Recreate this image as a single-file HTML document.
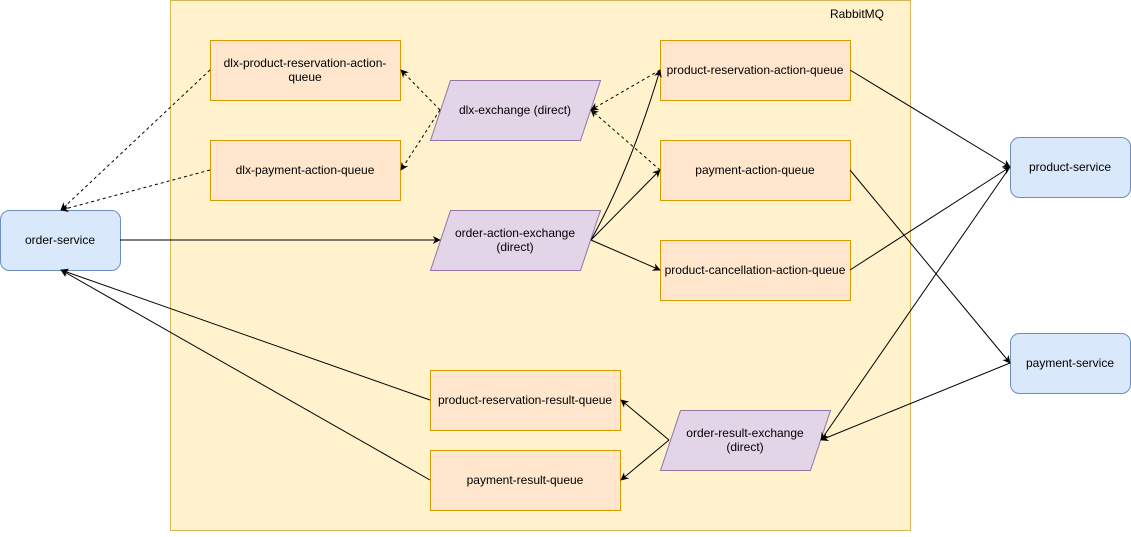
<!DOCTYPE html>
<html><head><style>
html,body{margin:0;padding:0;background:#fff;}
svg text{font-family:"Liberation Sans",Helvetica,sans-serif;font-size:12px;fill:#000;}
</style></head><body>
<svg width="1131" height="532" viewBox="0 0 1131 532" xmlns="http://www.w3.org/2000/svg">
<defs>
<marker id="a" viewBox="0 0 10 10" refX="9" refY="5" markerWidth="8" markerHeight="8" orient="auto-start-reverse" markerUnits="userSpaceOnUse"><path d="M0,0 L10,5 L0,10 L3,5 z" fill="#000"/></marker>
</defs>
<rect x="170.5" y="0.5" width="740" height="530" fill="#fff2cc" stroke="#d6b656"/>
<text x="884" y="18" text-anchor="end">RabbitMQ</text>

<g fill="#ffe6cc" stroke="#d79b00">
<rect x="210.5" y="40.5" width="190" height="60"/>
<rect x="210.5" y="140.5" width="190" height="60"/>
<rect x="660.5" y="40.5" width="190" height="60"/>
<rect x="660.5" y="140.5" width="190" height="60"/>
<rect x="660.5" y="240.5" width="190" height="60"/>
<rect x="430.5" y="370.5" width="190" height="60"/>
<rect x="430.5" y="450.5" width="190" height="60"/>
</g>
<g fill="#dae8fc" stroke="#6c8ebf">
<rect x="0.5" y="210.5" width="120" height="60" rx="9"/>
<rect x="1010.5" y="137.5" width="120" height="60" rx="9"/>
<rect x="1010.5" y="333.5" width="120" height="60" rx="9"/>
</g>
<g fill="#e1d5e7" stroke="#9673a6">
<polygon points="450.5,80.5 600.5,80.5 580.5,140.5 430.5,140.5"/>
<polygon points="450.5,210.5 600.5,210.5 580.5,270.5 430.5,270.5"/>
<polygon points="680.5,410.5 830.5,410.5 810.5,470.5 660.5,470.5"/>
</g>

<g stroke="#000" fill="none" stroke-width="1" marker-end="url(#a)">
<line x1="120" y1="240" x2="440" y2="240"/>
<path d="M591,240 Q630,170 660,70"/>
<line x1="591" y1="240" x2="660" y2="170"/>
<line x1="591" y1="240" x2="660" y2="270"/>
<line x1="850" y1="70" x2="1010" y2="167"/>
<line x1="850" y1="170" x2="1010" y2="363"/>
<line x1="850" y1="270" x2="1010" y2="167"/>
<line x1="1010" y1="167" x2="821" y2="440"/>
<line x1="1010" y1="363" x2="821" y2="440"/>
<line x1="669" y1="440" x2="621" y2="400"/>
<line x1="669" y1="440" x2="621" y2="480"/>
<line x1="430" y1="400" x2="61" y2="270"/>
<line x1="430" y1="480" x2="61" y2="270"/>
</g>
<g stroke="#000" fill="none" stroke-width="1" stroke-dasharray="3,3" marker-end="url(#a)">
<line x1="660" y1="70" x2="591" y2="110"/>
<line x1="660" y1="170" x2="591" y2="110"/>
<line x1="440" y1="110" x2="401" y2="70"/>
<line x1="440" y1="110" x2="401" y2="170"/>
<line x1="210" y1="70" x2="61" y2="210"/>
<line x1="210" y1="170" x2="61" y2="210"/>
</g>

<g text-anchor="middle">
<text x="305" y="67">dlx-product-reservation-action-</text>
<text x="305" y="81">queue</text>
<text x="305" y="174">dlx-payment-action-queue</text>
<text x="755" y="74">product-reservation-action-queue</text>
<text x="755" y="174">payment-action-queue</text>
<text x="755" y="274">product-cancellation-action-queue</text>
<text x="525" y="404">product-reservation-result-queue</text>
<text x="525" y="484">payment-result-queue</text>
<text x="60" y="244">order-service</text>
<text x="1070" y="171">product-service</text>
<text x="1070" y="367">payment-service</text>
<text x="515" y="114">dlx-exchange (direct)</text>
<text x="515" y="237">order-action-exchange</text>
<text x="515" y="251">(direct)</text>
<text x="745" y="437">order-result-exchange</text>
<text x="745" y="451">(direct)</text>
</g>
</svg>
</body></html>
